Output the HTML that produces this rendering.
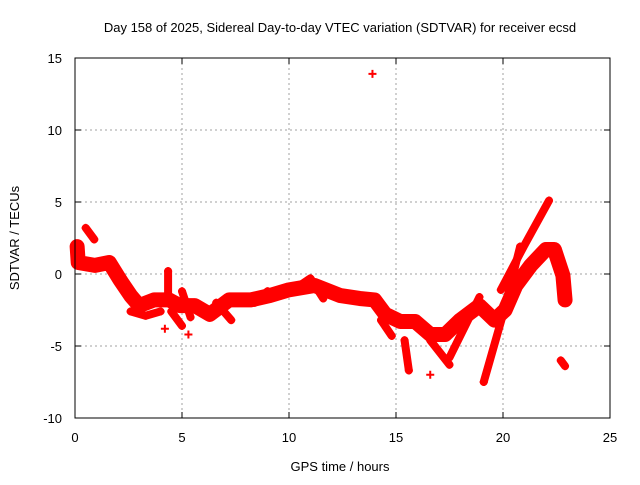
<!DOCTYPE html>
<html><head><meta charset="utf-8"><style>
body{margin:0;background:#fff;}
svg text{font-family:"Liberation Sans",sans-serif;font-size:13px;fill:#000;}
</style></head><body>
<svg width="640" height="480" xmlns="http://www.w3.org/2000/svg">
<rect width="640" height="480" fill="#fff"/>
<g id="grid"></g>
<g id="series"></g>
<rect x="75" y="58" width="535" height="360" fill="none" stroke="#000" stroke-width="1"/>
<g id="ticks"></g>
<text x="340" y="32" text-anchor="middle">Day 158 of 2025, Sidereal Day-to-day VTEC variation (SDTVAR) for receiver ecsd</text>
<text x="340" y="471" text-anchor="middle">GPS time / hours</text>
<text x="19" y="238" text-anchor="middle" transform="rotate(-90 19 238)">SDTVAR / TECUs</text>
</svg>
<script>
const xTicks=[0,5,10,15,20,25];
const yTicks=[-10,-5,0,5,10,15];
const mainT=[0.1,0.15,0.93,1.6,2.1,2.6,3.0,3.7,4.4,4.9,5.6,6.3,7.2,8.2,9.1,10,11.2,12.4,13.3,14,14.5,15.2,15.9,16.6,17.3,18,18.9,19.6,20.1,20.6,21.3,22,22.4,22.8,22.9];
const mainV=[1.9,0.8,0.6,0.8,-0.4,-1.5,-2.2,-1.8,-1.8,-2.2,-2.2,-2.8,-1.8,-1.8,-1.5,-1.1,-0.8,-1.5,-1.7,-1.8,-2.8,-3.3,-3.3,-4.2,-4.2,-3.2,-2.2,-3.2,-2.5,-0.8,0.6,1.7,1.7,-0.1,-1.8];
const tracks=[
 {t:[0.5,0.9],v:[3.2,2.4]},
 {t:[19.9,21.0,22.15],v:[-1.1,2.0,5.1]},
 {t:[19.1,20.0,20.8],v:[-7.5,-2.8,1.9]},
 {t:[17.5,18.9],v:[-5.8,-1.6]},
 {t:[16.6,17.5],v:[-4.6,-6.3]},
 {t:[15.4,15.6],v:[-4.6,-6.7]},
 {t:[4.35,4.35],v:[0.2,-1.8]},
 {t:[22.7,22.9],v:[-6.0,-6.4]},
 {t:[2.6,3.3,4.0],v:[-2.6,-2.9,-2.6]},
 {t:[4.5,5.0],v:[-2.6,-3.6]},
 {t:[5.0,5.4],v:[-1.2,-3.0]},
 {t:[6.6,7.3],v:[-2.0,-3.2]},
 {t:[8.4,9.0],v:[-2.0,-1.2]},
 {t:[10.3,11.0,11.6],v:[-1.0,-0.3,-1.7]},
 {t:[14.3,14.8],v:[-3.2,-4.3]}
];
const singlesT=[13.9,16.6,4.2,5.3];
const singlesV=[13.9,-7.0,-3.8,-4.2];
const X=t=>75+t*535/25, Y=v=>274-v*14.4;
const NS='http://www.w3.org/2000/svg';
const mk=(tag,a,p)=>{const e=document.createElementNS(NS,tag);for(const k in a)e.setAttribute(k,a[k]);p.appendChild(e);return e;};
const grid=document.getElementById('grid'),ticks=document.getElementById('ticks'),ser=document.getElementById('series');
xTicks.forEach(t=>{
 if(t>0&&t<25){const l=mk('line',{x1:X(t),x2:X(t),y1:58,y2:418,stroke:'#a0a0a0','stroke-dasharray':'2,3'},grid);
 }
 mk('line',{x1:X(t),x2:X(t),y1:418,y2:412,stroke:'#000'},ticks);mk('line',{x1:X(t),x2:X(t),y1:58,y2:64,stroke:'#000'},ticks);
 const tx=mk('text',{x:X(t),y:442,'text-anchor':'middle'},ticks);tx.textContent=t;
 
});
yTicks.forEach(v=>{
 if(v>-10&&v<15){const l=mk('line',{x1:75,x2:610,y1:Y(v),y2:Y(v),stroke:'#a0a0a0','stroke-dasharray':'2,3'},grid);
 }
 mk('line',{x1:75,x2:81,y1:Y(v),y2:Y(v),stroke:'#000'},ticks);mk('line',{x1:610,x2:604,y1:Y(v),y2:Y(v),stroke:'#000'},ticks);
 const tx=mk('text',{x:62,y:Y(v)+5,'text-anchor':'end'},ticks);tx.textContent=v;
 
});
function plus(t,v){const g=mk('path',{d:`M${X(t)-4},${Y(v)}h8M${X(t)},${Y(v)-4}v8`,stroke:'#f00','stroke-width':2},ser);
 }
function track(ts,vs,w){const p=mk('polyline',{points:ts.map((t,i)=>X(t)+','+Y(vs[i])).join(' '),fill:'none',stroke:'#f00','stroke-width':w,'stroke-linejoin':'round','stroke-linecap':'round'},ser);
 ts.forEach((t,i)=>plus(t,vs[i]));}
track(mainT,mainV,15);
tracks.forEach(k=>track(k.t,k.v,8));
singlesT.forEach((t,i)=>plus(t,singlesV[i]));
</script>
</body></html>
